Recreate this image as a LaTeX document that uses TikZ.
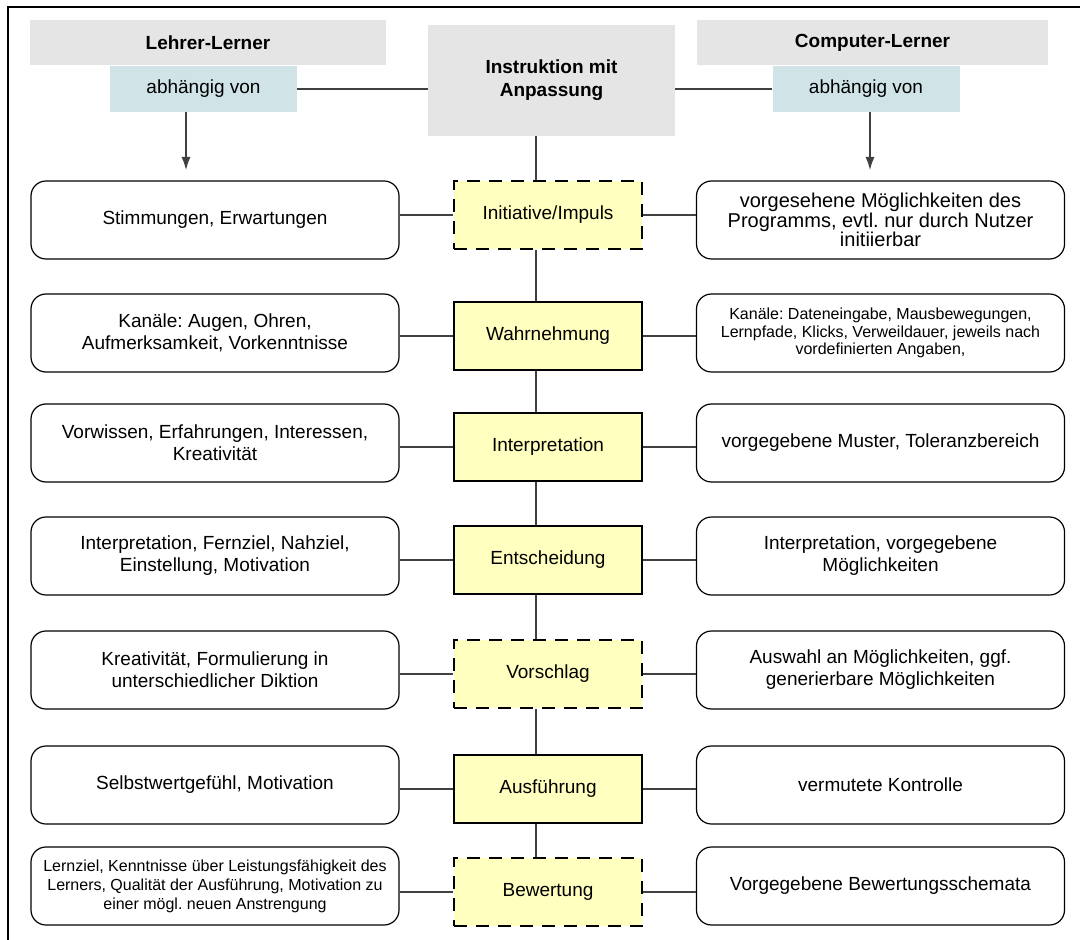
\documentclass[tikz,border=0pt]{standalone}
\usepackage{fontspec}
\setmainfont{Liberation Sans}
\usetikzlibrary{arrows.meta}
\definecolor{headgray}{RGB}{229,229,229}
\definecolor{depblue}{RGB}{208,228,232}
\definecolor{stageyellow}{RGB}{255,255,192}
\definecolor{linegray}{RGB}{64,64,64}
\frenchspacing

\begin{document}
\begin{tikzpicture}[x=0.5pt,y=-0.5pt,
  head node/.style={fill=headgray,inner sep=0pt,align=center,font=\fontsize{9.5}{11.5}\selectfont\bfseries},
  dep node/.style={fill=depblue,minimum width=93.5pt,minimum height=23pt,inner sep=0pt,font=\fontsize{9.5}{11}\selectfont},
  side node/.style={draw,rounded corners=7.5pt,line width=0.6pt,minimum width=184pt,minimum height=39pt,inner sep=0pt,align=center,font=\fontsize{9.5}{11}\selectfont},
  stage node/.style={draw,fill=stageyellow,line width=1pt,minimum width=94pt,minimum height=34pt,inner sep=0pt,font=\fontsize{9.5}{11}\selectfont},
  open stage/.style={stage node,dash pattern=on 6.5pt off 4.5pt},
  link/.style={draw=linegray,line width=0.6pt}]

  \useasboundingbox (0,0) rectangle (1080,940);
  \draw[line width=1.2pt] (8,940) -- (8,7) -- (1080,7);

  % kopf
  \node[head node,minimum width=178pt,minimum height=22.5pt] (hl) at (208,42.5) {Lehrer-Lerner};
  \node[head node,minimum width=175.5pt,minimum height=22.5pt] (hr) at (872.5,42.5) {Computer-Lerner};
  \node[dep node] (dl) at (203.5,89) {abhängig von};
  \node[dep node] (dr) at (866,89) {abhängig von};
  \node[head node,minimum width=123.5pt,minimum height=55.5pt] (inst) at (551.5,80.5) {Instruktion mit\\Anpassung};

  % phasen
  \node[open stage] (s1) at (548,215) {Initiative/Impuls};
  \node[stage node] (s2) at (548,336) {Wahrnehmung};
  \node[stage node] (s3) at (548,447) {Interpretation};
  \node[stage node] (s4) at (548,560) {Entscheidung};
  \node[open stage] (s5) at (548,674) {Vorschlag};
  \node[stage node] (s6) at (548,789) {Ausführung};
  \node[open stage] (s7) at (548,892) {Bewertung};

  % lehrer-lerner
  \node[side node] (l1) at (215,220) {Stimmungen, Erwartungen};
  \node[side node] (l2) at (215,333) {Kanäle: Augen, Ohren,\\Aufmerksamkeit, Vorkenntnisse};
  \node[side node] (l3) at (215,443) {Vorwissen, Erfahrungen, Interessen,\\Kreativität};
  \node[side node] (l4) at (215,556) {Interpretation, Fernziel, Nahziel,\\Einstellung, Motivation};
  \node[side node] (l5) at (215,670) {Kreativität, Formulierung in\\unterschiedlicher Diktion};
  \node[side node] (l6) at (215,785) {Selbstwertgefühl, Motivation};
  \node[side node,font=\fontsize{8}{9.5}\selectfont] (l7) at (215,886) {Lernziel, Kenntnisse über Leistungsfähigkeit des\\Lerners, Qualität der Ausführung, Motivation zu\\einer mögl. neuen Anstrengung};

  % computer-lerner
  \node[side node,font=\fontsize{10}{9.7}\selectfont] (r1) at (880.5,220) {vorgesehene Möglichkeiten des\\Programms, evtl. nur durch Nutzer\\initiierbar};
  \node[side node,font=\fontsize{8}{8.8}\selectfont] (r2) at (880.5,333) {Kanäle: Dateneingabe, Mausbewegungen,\\Lernpfade, Klicks, Verweildauer, jeweils nach\\vordefinierten Angaben,};
  \node[side node] (r3) at (880.5,443) {vorgegebene Muster, Toleranzbereich};
  \node[side node] (r4) at (880.5,556) {Interpretation, vorgegebene\\Möglichkeiten};
  \node[side node] (r5) at (880.5,670) {Auswahl an Möglichkeiten, ggf.\\generierbare Möglichkeiten};
  \node[side node] (r6) at (880.5,785) {vermutete Kontrolle};
  \node[side node] (r7) at (880.5,886) {Vorgegebene Bewertungsschemata};

  \coordinate (spine) at (536,0);
  \coordinate (tl) at (186,170);
  \coordinate (tr) at (870,170);

  \draw[link] (dl.east) -- (dl.east -| inst.west);
  \draw[link] (dr.west -| inst.east) -- (dr.west);
  \draw[link,-{Latex[length=6.5pt,width=4.5pt]}] (dl.south -| tl) -- (tl);
  \draw[link,-{Latex[length=6.5pt,width=4.5pt]}] (dr.south -| tr) -- (tr);

  \draw[link] (inst.south -| spine) -- (s1.north -| spine);
  \draw[link] (s1.south -| spine) -- (s2.north -| spine);
  \draw[link] (s2.south -| spine) -- (s3.north -| spine);
  \draw[link] (s3.south -| spine) -- (s4.north -| spine);
  \draw[link] (s4.south -| spine) -- (s5.north -| spine);
  \draw[link] (s5.south -| spine) -- (s6.north -| spine);
  \draw[link] (s6.south -| spine) -- (s7.north -| spine);

  \draw[link] (s1.west) -- (s1.west -| l1.east);
  \draw[link] (s2.west) -- (s2.west -| l2.east);
  \draw[link] (s3.west) -- (s3.west -| l3.east);
  \draw[link] (s4.west) -- (s4.west -| l4.east);
  \draw[link] (s5.west) -- (s5.west -| l5.east);
  \draw[link] (s6.west) -- (s6.west -| l6.east);
  \draw[link] (s7.west) -- (s7.west -| l7.east);

  \draw[link] (s1.east) -- (s1.east -| r1.west);
  \draw[link] (s2.east) -- (s2.east -| r2.west);
  \draw[link] (s3.east) -- (s3.east -| r3.west);
  \draw[link] (s4.east) -- (s4.east -| r4.west);
  \draw[link] (s5.east) -- (s5.east -| r5.west);
  \draw[link] (s6.east) -- (s6.east -| r6.west);
  \draw[link] (s7.east) -- (s7.east -| r7.west);
\end{tikzpicture}
\end{document}
